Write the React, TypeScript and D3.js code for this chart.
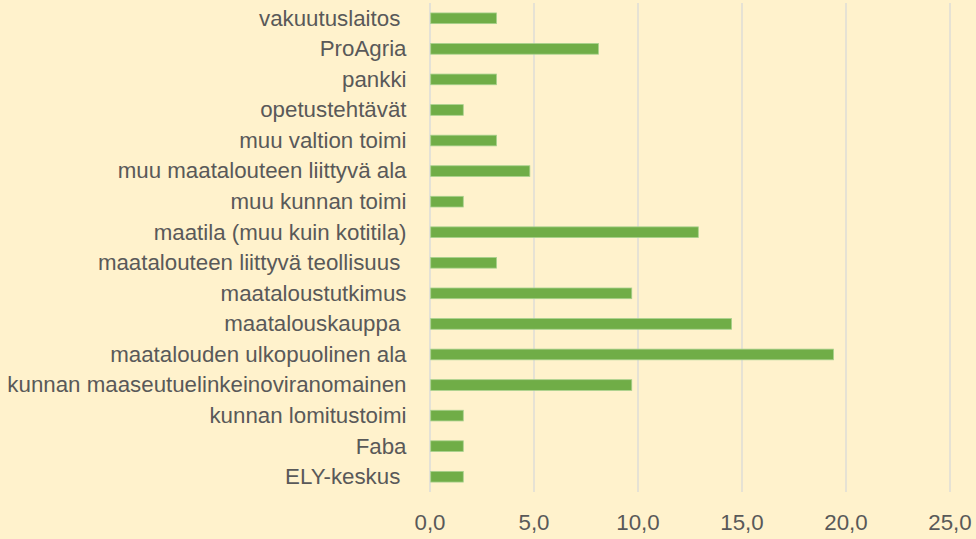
import React from "react";
import * as d3 from "d3";

const categories = [
  "vakuutuslaitos ",
  "ProAgria",
  "pankki",
  "opetustehtävät",
  "muu valtion toimi",
  "muu maatalouteen liittyvä ala",
  "muu kunnan toimi",
  "maatila (muu kuin kotitila)",
  "maatalouteen liittyvä teollisuus ",
  "maataloustutkimus",
  "maatalouskauppa ",
  "maatalouden ulkopuolinen ala",
  "kunnan maaseutuelinkeinoviranomainen",
  "kunnan lomitustoimi",
  "Faba",
  "ELY-keskus ",
];
const values = [3.2, 8.1, 3.2, 1.6, 3.2, 4.8, 1.6, 12.9, 3.2, 9.7, 14.5, 19.4, 9.7, 1.6, 1.6, 1.6];
const ticks = [0, 5, 10, 15, 20, 25];

const W = 976;
const H = 539;

export default function App() {
  const x = d3.scaleLinear().domain([0, 25]).range([430, 950]);
  const y = d3
    .scaleBand<string>()
    .domain(categories)
    .range([3, 492])
    .paddingInner(0.65)
    .paddingOuter(0.325);
  const fmt = (v: number) => v.toFixed(1).replace(".", ",");
  const font = "'Liberation Sans', Arial, sans-serif";
  return (
    <svg
      width={W}
      height={H}
      style={{ position: "absolute", left: 0, top: 0, display: "block" }}
      fontFamily={font}
    >
      <rect x={0} y={0} width={W} height={H} fill="#FFF2CC" />
      {ticks.map((t) => (
        <line
          key={"g" + t}
          x1={x(t)}
          x2={x(t)}
          y1={3}
          y2={492}
          stroke={t === 0 ? "#D6D8DC" : "#D9D9D9"}
          strokeWidth={1.3}
        />
      ))}
      {categories.map((c, i) => (
        <rect
          key={"b" + c}
          x={x(0) + 0.7}
          y={y(c)!}
          width={x(values[i]) - x(0) - 0.7}
          height={y.bandwidth()}
          fill="#70AD47"
          stroke="#A9D18E"
          strokeWidth={0.8}
        />
      ))}
      {categories.map((c) => (
        <text
          key={"l" + c}
          x={406.5}
          y={y(c)! + y.bandwidth() / 2}
          dy="0.33em"
          textAnchor="end"
          fontSize={22.3}
          fill="#595959"
          style={{ whiteSpace: "pre" }}
        >
          {c}
        </text>
      ))}
      {ticks.map((t) => (
        <text
          key={"t" + t}
          x={x(t)}
          y={530}
          textAnchor="middle"
          fontSize={22.3}
          fill="#595959"
        >
          {fmt(t)}
        </text>
      ))}
    </svg>
  );
}
